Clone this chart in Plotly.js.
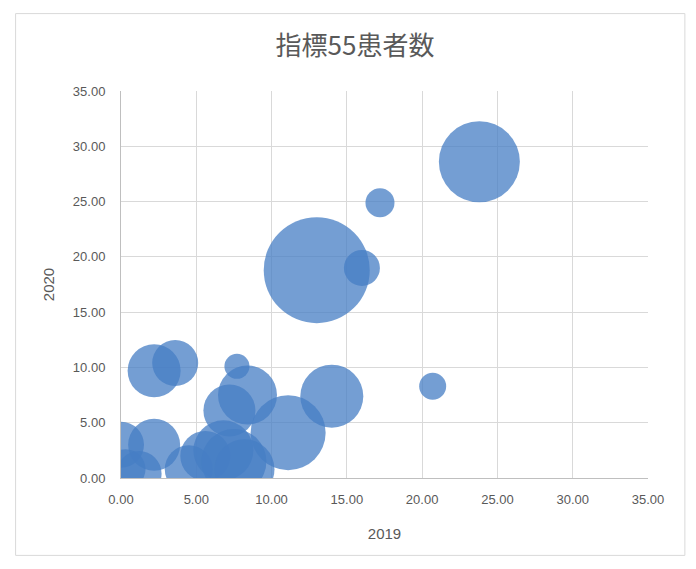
<!DOCTYPE html>
<html>
<head>
<meta charset="utf-8">
<script src="https://cdn.plot.ly/plotly-3.0.1.min.js"></script>
<style>html,body{margin:0;padding:0;background:#fff;}#chart{width:696px;height:569px;}</style>
</head>
<body>
<div id="chart"></div>
<script>
// 2019 values (x), 2020 values (y), bubble sizes
const x2019 = [23.8, 17.2, 13.0, 16.0, 20.7, 14.0, 11.1, 2.2, 3.6, 7.7, 8.4, 7.2,
               0.0, 2.2, 0.3, 1.2, 4.5, 5.6, 6.8, 7.5, 8.2];
const y2020 = [28.6, 24.9, 18.8, 19.0, 8.3, 7.4, 4.1, 9.7, 10.4, 10.1, 7.5, 6.1,
               3.0, 3.0, 0.8, 0.4, 0.8, 2.0, 2.5, 1.5, 0.8];
const sizes = [81, 29, 106, 36, 27, 63, 75, 53, 46, 25, 59, 52,
               46, 52, 40, 45, 48, 50, 60, 65, 60];
const xTicks = [0, 5, 10, 15, 20, 25, 30, 35];
const yTicks = [0, 5, 10, 15, 20, 25, 30, 35];
const fmt = v => v.toFixed(2);

const trace = {
  type: 'scatter',
  mode: 'markers',
  x: x2019,
  y: y2020,
  marker: {
    size: sizes,
    sizemode: 'diameter',
    sizeref: 1,
    color: 'rgb(70,125,196)',
    opacity: 0.75,
    line: {width: 0}
  },
  cliponaxis: true,
  hoverinfo: 'x+y'
};

const tickFont = {family: 'Liberation Sans, Arial, sans-serif', size: 13, color: '#595959'};
const axisCommon = {
  range: [0, 35],
  tickmode: 'array',
  showgrid: true,
  gridcolor: '#d9d9d9',
  gridwidth: 1,
  zeroline: false,
  showline: true,
  linecolor: '#bfbfbf',
  linewidth: 1,
  ticks: '',
  tickfont: tickFont,
  fixedrange: true
};

const layout = {
  width: 696,
  height: 569,
  margin: {l: 121, r: 48, t: 91, b: 91},
  paper_bgcolor: '#ffffff',
  plot_bgcolor: '#ffffff',
  showlegend: false,
  title: {
    text: '指標55患者数',
    font: {family: 'Noto Sans CJK JP, sans-serif', size: 26, color: '#595959'},
    x: 0.51, xanchor: 'center', y: 0.92, yanchor: 'middle'
  },
  xaxis: Object.assign({}, axisCommon, {
    tickvals: xTicks,
    ticktext: xTicks.map(fmt),
    ticklabelstandoff: 9,
    title: {text: '2019', font: {family: 'Liberation Sans, Arial, sans-serif', size: 15, color: '#595959'}, standoff: 22}
  }),
  yaxis: Object.assign({}, axisCommon, {
    tickvals: yTicks,
    ticktext: yTicks.map(fmt),
    ticklabelstandoff: 12,
    title: {text: '2020', font: {family: 'Liberation Sans, Arial, sans-serif', size: 15, color: '#595959'}, standoff: 14}
  }),
  shapes: [{
    type: 'rect', xref: 'paper', yref: 'paper',
    x0: -0.2, x1: 1.07, y0: -0.2, y1: 1.2,
    line: {color: '#d9d9d9', width: 1}, fillcolor: 'rgba(0,0,0,0)', layer: 'below'
  }]
};

Plotly.newPlot('chart', [trace], layout, {displayModeBar: false, staticPlot: true});
</script>
</body>
</html>
